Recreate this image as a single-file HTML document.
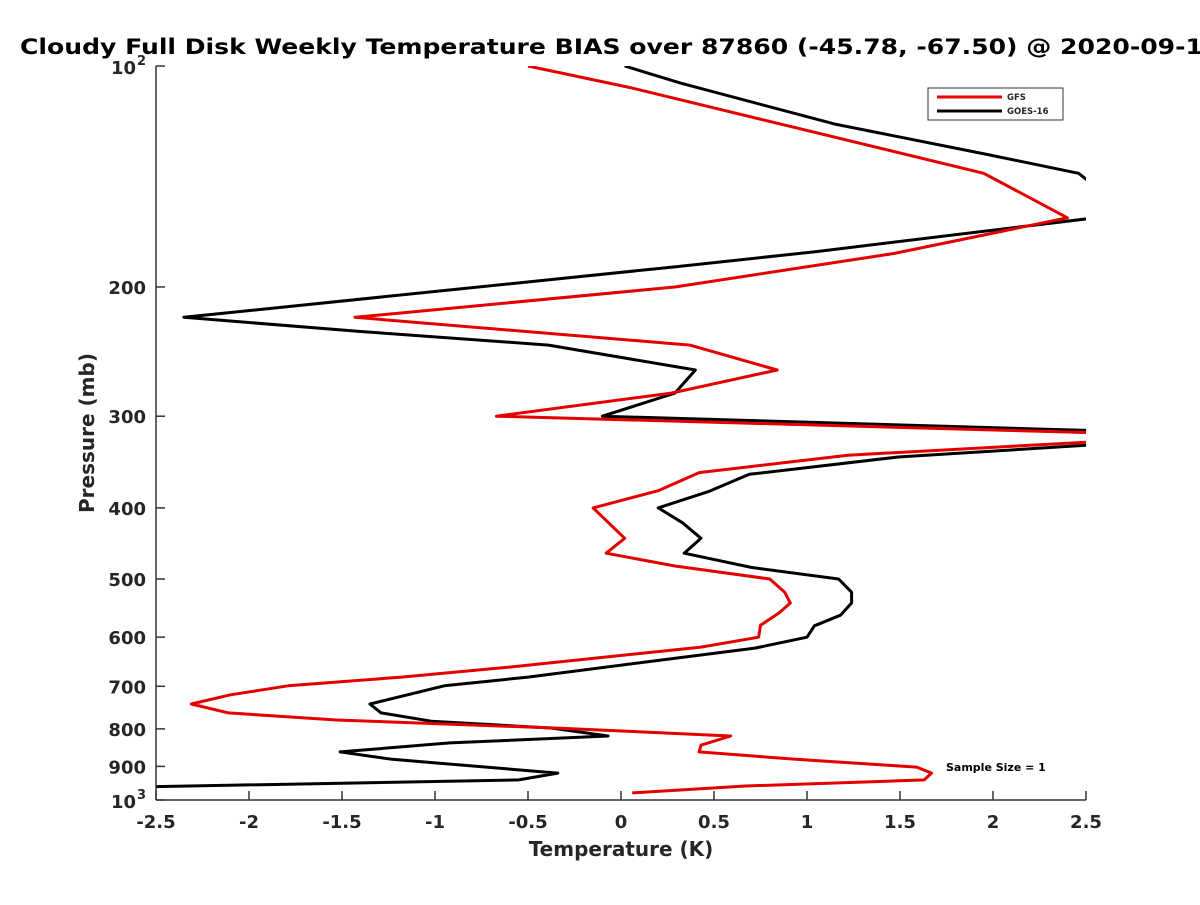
<!DOCTYPE html>
<html><head><meta charset="utf-8"><style>
body{margin:0;background:#fff}
svg text{font-family:"DejaVu Sans","Liberation Sans",sans-serif;font-weight:bold;fill:#262626}
</style></head><body>
<svg id="chart" width="1200" height="900" viewBox="0 0 1200 900" xmlns="http://www.w3.org/2000/svg">
<rect width="1200" height="900" fill="#fff"/>
<text x="20" y="54" font-size="21" textLength="1183" lengthAdjust="spacingAndGlyphs" style="fill:#000">Cloudy Full Disk Weekly Temperature BIAS over 87860 (-45.78, -67.50) @ 2020-09-1</text>
<defs><clipPath id="plotclip"><rect x="156" y="66" width="930" height="734"/></clipPath></defs>
<g id="series" clip-path="url(#plotclip)"></g>
<g id="axes"></g>
<g>
<rect x="928" y="88" width="135" height="32" fill="#fff" stroke="#333" stroke-width="1"/>
<line x1="937" y1="97" x2="1002" y2="97" stroke="#e00" stroke-width="3"/>
<text x="1007" y="100" font-size="8.5">GFS</text>
<line x1="937" y1="111" x2="1002" y2="111" stroke="#000" stroke-width="3"/>
<text x="1007" y="114" font-size="8.5">GOES-16</text>
</g>
<text x="946" y="771" font-size="11" style="fill:#000">Sample Size = 1</text>
<text x="621" y="856" font-size="20" text-anchor="middle">Temperature (K)</text>
<text transform="translate(94,433) rotate(-90)" font-size="20" text-anchor="middle">Pressure (mb)</text>
</svg>
<script>
const xTicks=[-2.5,-2,-1.5,-1,-0.5,0,0.5,1,1.5,2,2.5];
const xTickLabels=["-2.5","-2","-1.5","-1","-0.5","0","0.5","1","1.5","2","2.5"];
const yTicks=[100,200,300,400,500,600,700,800,900,1000];
const yTickLabels=["10|2","200","300","400","500","600","700","800","900","10|3"];
const gfsPressure=[100,107,140,161,180,200,220,240,259.5,279,300,316,325,339,358,379,400,440,461,480,500,521,539,556,578,600,619,659,680,699,719,740,761,778,798,818,842,860,880,902,919,939,957,978];
const gfsTemp=[-0.5,0.05,1.95,2.4,1.47,0.29,-1.43,0.37,0.84,0.27,-0.67,2.55,2.55,1.22,0.42,0.2,-0.15,0.02,-0.08,0.29,0.8,0.88,0.91,0.85,0.75,0.74,0.43,-0.6,-1.18,-1.79,-2.1,-2.31,-2.11,-1.53,-0.34,0.59,0.43,0.42,0.94,1.59,1.67,1.63,0.67,0.06];
const goesPressure=[100,105.5,120,132,140,146,161,179,188,220,230,240,259.5,279,300,314,328,341,360,380,400,419,440,461,482,500,521,539,560,579,600,621,680,699,740,761,781,798,818,836,860,880,919,939,960];
const goesTemp=[0.02,0.32,1.15,1.97,2.46,2.55,2.55,1.05,0.27,-2.35,-1.4,-0.39,0.4,0.29,-0.1,2.55,2.55,1.49,0.69,0.47,0.2,0.33,0.43,0.34,0.7,1.17,1.24,1.24,1.18,1.04,1.0,0.72,-0.5,-0.95,-1.35,-1.29,-1.02,-0.37,-0.07,-0.92,-1.51,-1.23,-0.34,-0.55,-2.6];

const NS="http://www.w3.org/2000/svg";
const X0=156,X1=1086,Y0=66,Y1=800;
function xScale(t){return X0+(t+2.5)/5*(X1-X0);}
function yScale(p){return Y0+Math.log10(p/100)*(Y1-Y0);}
function mk(tag,attrs,parent){const e=document.createElementNS(NS,tag);for(const k in attrs)e.setAttribute(k,attrs[k]);parent.appendChild(e);return e;}
const axes=document.getElementById('axes');
const series=document.getElementById('series');
let l=mk('line',{x1:X0,y1:Y0,x2:X0,y2:Y1,stroke:'#333','stroke-width':1.5},axes);


l=mk('line',{x1:X0,y1:Y1,x2:X1,y2:Y1,stroke:'#333','stroke-width':1.5},axes);


xTicks.forEach((t,i)=>{
  const x=xScale(t);
  const tk=mk('line',{x1:x,y1:Y1,x2:x,y2:Y1-9,stroke:'#333','stroke-width':1.5},axes);
  
  
  const tx=mk('text',{x:x,y:Y1+28,'font-size':18,'text-anchor':'middle'},axes);
  tx.textContent=xTickLabels[i];
  
  
});
yTicks.forEach((p,i)=>{
  const y=yScale(p);
  const tk=mk('line',{x1:X0,y1:y,x2:X0+9,y2:y,stroke:'#333','stroke-width':1.5},axes);
  
  
  const lab=yTickLabels[i];
  if(lab.indexOf('|')>=0){
    const parts=lab.split('|');
    const tx=mk('text',{x:X0-20,y:y+8,'font-size':18,'text-anchor':'end'},axes);
    tx.textContent=parts[0];
    
    
    const sp=mk('text',{x:X0-10,y:y-1,'font-size':13,'text-anchor':'end'},axes);
    sp.textContent=parts[1];
    
    
  } else {
    const tx=mk('text',{x:X0-10,y:y+7,'font-size':18,'text-anchor':'end'},axes);
    tx.textContent=lab;
    
    
  }
});
function drawLine(P,T,color,name){
  const pts=P.map((p,i)=>xScale(T[i]).toFixed(1)+','+yScale(p).toFixed(1)).join(' ');
  const pl=mk('polyline',{points:pts,fill:'none',stroke:color,'stroke-width':3,'stroke-linejoin':'round'},series);
  
  
}
drawLine(goesPressure,goesTemp,'#000','goes16-line');
drawLine(gfsPressure,gfsTemp,'#e50000','gfs-line');
</script>
</body></html>
